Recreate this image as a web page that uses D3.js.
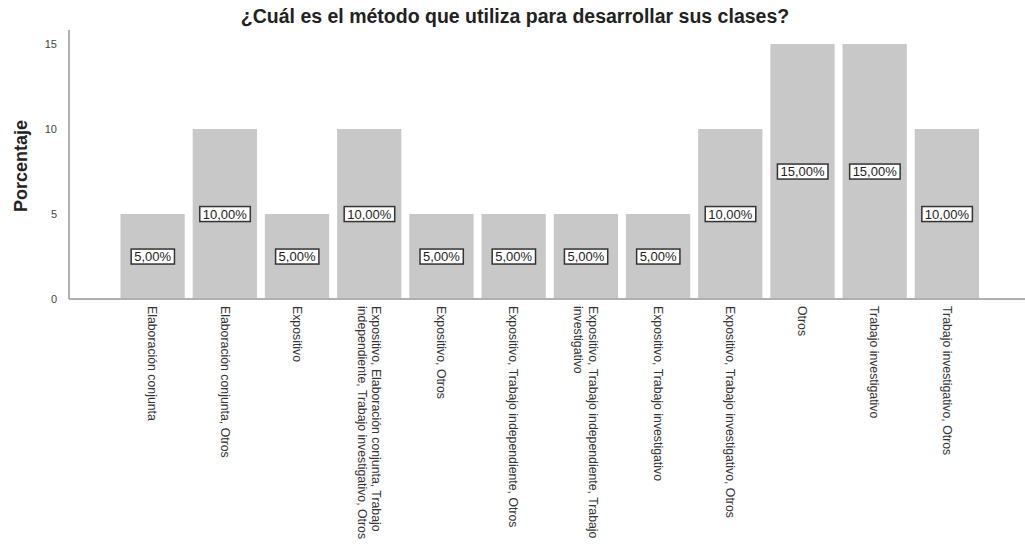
<!DOCTYPE html>
<html>
<head>
<meta charset="utf-8">
<script src="https://cdn.jsdelivr.net/npm/d3@7"></script>
<style>
  html, body { margin: 0; padding: 0; background: #fff; }
  svg { display: block; font-family: Arial, "Liberation Sans", sans-serif; }
</style>
</head>
<body>
<svg id="chart" width="1025" height="548"></svg>
<script>
// Categories (each entry split into the lines it is drawn on)
const categories = [
  ["Elaboración conjunta"],
  ["Elaboración conjunta, Otros"],
  ["Expositivo"],
  ["Expositivo, Elaboración conjunta, Trabajo", "independiente, Trabajo investigativo, Otros"],
  ["Expositivo, Otros"],
  ["Expositivo, Trabajo independiente, Otros"],
  ["Expositivo, Trabajo independiente, Trabajo", "investigativo"],
  ["Expositivo, Trabajo investigativo"],
  ["Expositivo, Trabajo investigativo, Otros"],
  ["Otros"],
  ["Trabajo investigativo"],
  ["Trabajo investigativo, Otros"]
];
const percentages = [5, 10, 5, 10, 5, 5, 5, 5, 10, 15, 15, 10];
const yTicks = [0, 5, 10, 15];
const title = "¿Cuál es el método que utiliza para desarrollar sus clases?";
const yLabel = "Porcentaje";

const svg = d3.select("#chart");
const keys = categories.map((c, i) => String(i));

const x = d3.scaleBand()
  .domain(keys)
  .range([116.5, 983])
  .paddingInner(0.11)
  .paddingOuter(0.055);

const y = d3.scaleLinear().domain([0, 15]).range([299, 44]);

// Title
svg.append("text")
  .attr("x", 515).attr("y", 23)
  .attr("text-anchor", "middle")
  .attr("font-size", 19.5).attr("font-weight", "bold")
  .attr("fill", "#222")
  .text(title);

// Y axis label
svg.append("text")
  .attr("transform", "translate(27,166) rotate(-90)")
  .attr("text-anchor", "middle")
  .attr("font-size", 18).attr("font-weight", "bold")
  .attr("fill", "#222")
  .text(yLabel);

// Bars
svg.append("g").selectAll("rect")
  .data(percentages)
  .join("rect")
  .attr("x", (d, i) => x(keys[i]))
  .attr("y", d => y(d))
  .attr("width", x.bandwidth())
  .attr("height", d => y(0) - y(d))
  .attr("fill", "#c8c8c8");

// Y axis
const yAxis = svg.append("g")
  .attr("transform", "translate(69,0)")
  .call(d3.axisLeft(y).tickValues(yTicks).tickSize(0).tickPadding(12));
yAxis.select(".domain").attr("stroke", "#b0b0b0").attr("stroke-width", 2)
  .attr("d", "M0,30V299");
yAxis.selectAll(".tick text").attr("font-size", 11).attr("fill", "#444")
  .attr("font-family", "Arial, 'Liberation Sans', sans-serif");

// X axis baseline
svg.append("line")
  .attr("x1", 69).attr("x2", 1025)
  .attr("y1", y(0)).attr("y2", y(0))
  .attr("stroke", "#b0b0b0").attr("stroke-width", 2);

// Category labels, rotated to read downward
const catG = svg.append("g").selectAll("g")
  .data(categories)
  .join("g")
  .attr("transform", (d, i) => {
    const cx = x(keys[i]) + x.bandwidth() / 2;
    return `translate(${cx},306) rotate(90)`;
  });
catG.each(function(lines) {
  const g = d3.select(this);
  const lh = 14.5;
  const off = -(lines.length - 1) * lh / 2;
  lines.forEach((ln, j) => {
    g.append("text")
      .attr("x", 0)
      .attr("y", off + j * lh)
      .attr("dy", "0.35em")
      .attr("text-anchor", "start")
      .attr("font-size", 12.3)
      .attr("fill", "#333")
      .text(ln);
  });
});

// Value labels in boxes at the middle of each bar
const fmt = v => v.toFixed(2).replace(".", ",") + "%";
const lbl = svg.append("g").selectAll("g")
  .data(percentages)
  .join("g")
  .attr("transform", (d, i) =>
    `translate(${x(keys[i]) + x.bandwidth() / 2},${y(d / 2)})`);
lbl.append("text")
  .attr("text-anchor", "middle")
  .attr("dy", "0.35em")
  .attr("font-size", 13)
  .attr("fill", "#222")
  .text(fmt);
lbl.each(function() {
  const g = d3.select(this);
  const t = g.select("text");
  const b = t.node().getBBox();
  g.insert("rect", "text")
    .attr("x", b.x - 3).attr("y", b.y)
    .attr("width", b.width + 6).attr("height", b.height)
    .attr("fill", "#fff")
    .attr("stroke", "#333").attr("stroke-width", 1.5);
});
</script>
</body>
</html>
